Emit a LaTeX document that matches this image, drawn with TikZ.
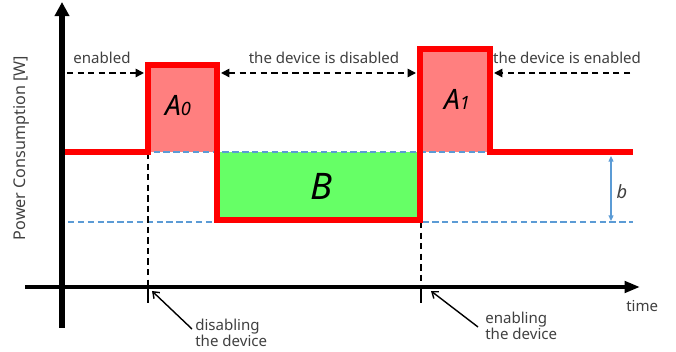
\documentclass[tikz,border=0pt]{standalone}
\usepackage{fontspec}
\setmainfont{Noto Sans}
\usetikzlibrary{arrows.meta}

\definecolor{pwred}{HTML}{FF0000}
\definecolor{peak}{HTML}{FF7F7F}
\definecolor{saved}{HTML}{66FF66}
\definecolor{lvblue}{HTML}{5B9BD5}
\definecolor{txt}{HTML}{404040}

\begin{document}
\begin{tikzpicture}[x=0.025cm, y=-0.025cm,
	axisline/.style={line width=#1, black},
	power/.style={draw=pwred, line width=3.8pt, line join=miter},
	level/.style={draw=lvblue, line width=1.1pt, dash pattern=on 4.5pt off 2.5pt},
	phase/.style={line width=1.1pt, dash pattern=on 4.5pt off 3pt},
	lbl/.style={text=txt, font=\fontsize{10.7}{11.8}\selectfont, inner sep=0pt},
	area/.style={font=\itshape\fontsize{20}{20}\selectfont, inner sep=0pt}]

	\useasboundingbox (0,0) rectangle (676,352);

	% filled areas
	\fill[peak] (148,65) rectangle (217,152);
	\fill[peak] (420,49) rectangle (490,152);
	\fill[saved] (217,152) rectangle (420,220);

	% power levels
	\draw[level] (65,152) -- (633,152);
	\draw[level] (68,222) -- (633,222);

	% switching instants
	\coordinate (off) at (148,287);
	\coordinate (on) at (421,287);
	\draw[phase] (148,153) -- (off);
	\draw[phase] (421,222) -- (on);
	\draw[line width=1.3pt] (148,287) -- (148,303);
	\draw[line width=1.3pt] (421,287) -- (421,303);

	% power trace
	\draw[power] (65,152) -- (148,152) -- (148,65) -- (217,65) -- (217,220)
		-- (420,220) -- (420,49) -- (490,49) -- (490,152) -- (633,152);

	% axes
	\coordinate (ybot) at (62,328);
	\coordinate (ytop) at (62,2);
	\coordinate (xleft) at (25,287);
	\coordinate (xright) at (640,287);
	\draw[axisline=4.3pt, -{Triangle[length=10pt, width=10pt]}] (ybot) -- (ytop);
	\draw[axisline=3pt, -{Triangle[length=11pt, width=8pt]}] (xleft) -- (xright);

	\node (ylab) at (21,148) [lbl, rotate=90, font=\fontsize{11.5}{13}\selectfont] {Power Consumption [W]};
	\node (tlab) at (626,306) [lbl, anchor=west] {time};

	% phase arrows
	\coordinate (e0) at (67,73);
	\coordinate (e1) at (144,73);
	\coordinate (d0) at (221,73);
	\coordinate (d1) at (416,73);
	\coordinate (n0) at (494,73);
	\coordinate (n1) at (630,73);
	\draw[phase, -{Triangle[length=6pt, width=6pt]}] (e0) -- (e1);
	\draw[phase, {Triangle[length=6pt, width=6pt]}-{Triangle[length=6pt, width=6pt]}] (d0) -- (d1);
	\draw[phase, -{Triangle[length=6pt, width=6pt]}] (n1) -- (n0);
	\node (enlab) at (102,58) [lbl] {enabled};
	\node (dislab) at (324,58) [lbl] {the device is disabled};
	\node (reenlab) at (567,58) [lbl] {the device is enabled};

	% energy areas
	\node (a0) at (178,106) [area] {A{\fontsize{13}{13}\selectfont 0}};
	\node (a1) at (457,99) [area] {A{\fontsize{13}{13}\selectfont 1}};
	\node (bb) at (321,186) [area, font=\itshape\fontsize{26}{26}\selectfont] {B};

	% level difference
	\coordinate (b0) at (611,156);
	\coordinate (b1) at (611,221);
	\draw[lvblue, line width=0.9pt, {Triangle[length=4pt, width=3.5pt]}-{Triangle[length=4pt, width=3.5pt]}] (b0) -- (b1);
	\node (blab) at (622,192) [area, text=txt, font=\itshape\fontsize{13}{13}\selectfont] {b};

	% annotations
	\node (offlab) at (195,333) [lbl, anchor=west, align=left] {disabling\\the device};
	\node (onlab) at (485,326) [lbl, anchor=west, align=left] {enabling\\the device};
	\coordinate (offfoot) at (192,329);
	\coordinate (onfoot) at (478,327);
	\coordinate (offtip) at (152,291);
	\coordinate (ontip) at (431,291);
	\draw[line width=1pt, -{Straight Barb[length=4pt, width=6pt]}] (offfoot) -- (offtip);
	\draw[line width=1pt, -{Straight Barb[length=4pt, width=6pt]}] (onfoot) -- (ontip);
\end{tikzpicture}
\end{document}
